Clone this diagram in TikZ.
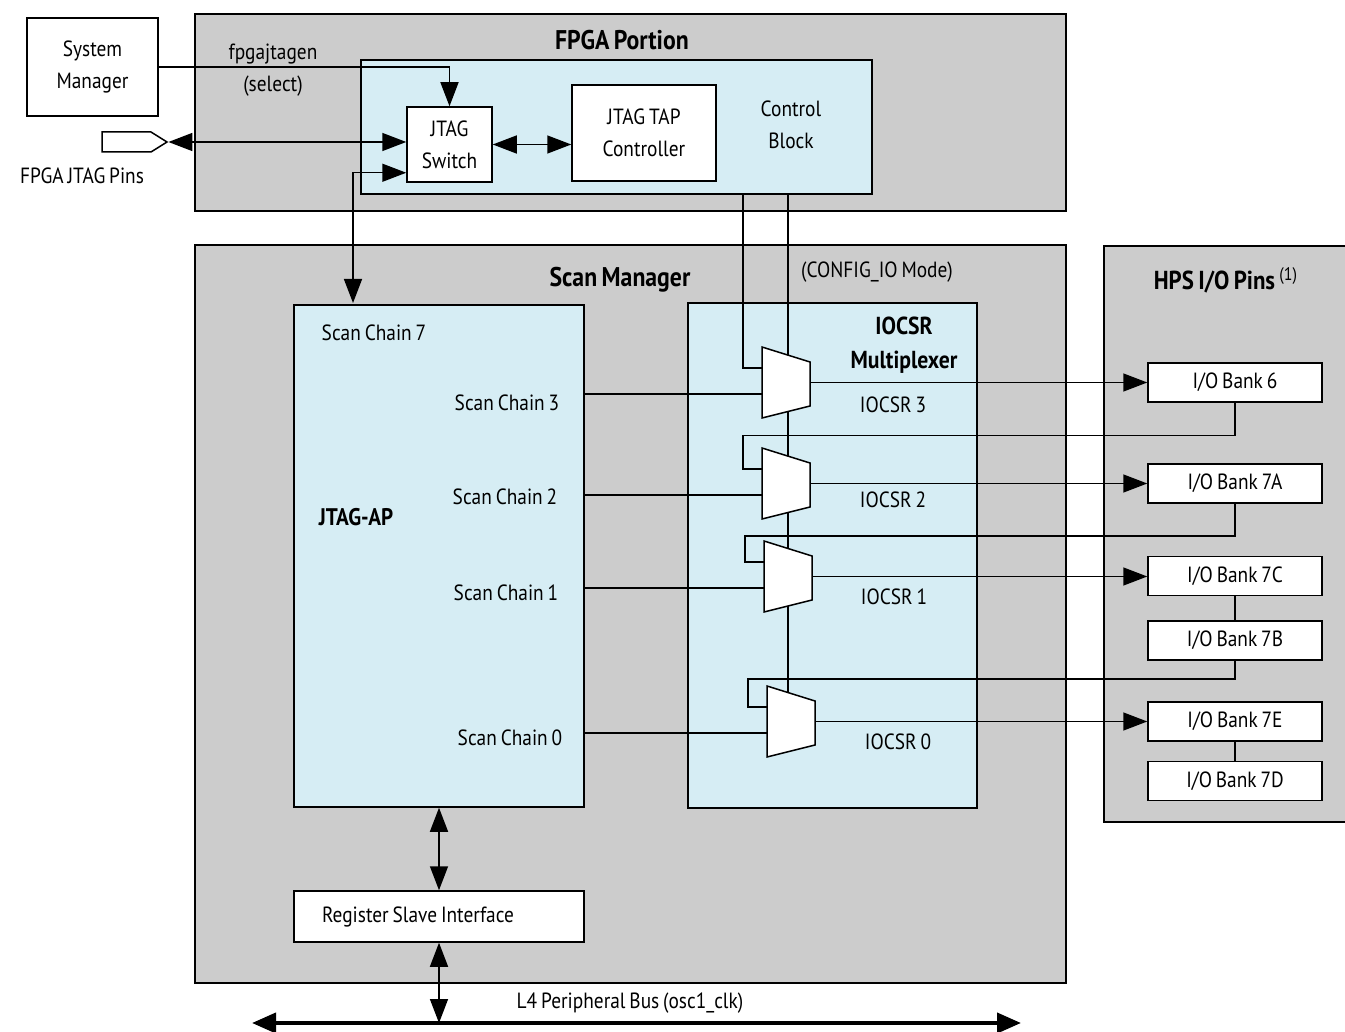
\documentclass[tikz,border=0pt]{standalone}
\usepackage{fontspec}
\setmainfont{PT Sans}[FakeStretch=0.88,WordSpace=0.75]
\usetikzlibrary{arrows.meta,shapes.symbols,calc,positioning}
\definecolor{areagray}{RGB}{204,204,204}
\definecolor{paleblue}{RGB}{214,237,244}

\begin{document}
\begin{tikzpicture}[x=0.5pt,y=-0.5pt,
    font=\fontsize{11}{16}\selectfont, line width=0.75pt,
    area/.style={draw,fill=areagray,inner sep=0pt},
    panel/.style={draw,fill=paleblue,inner sep=0pt},
    blk/.style={draw,fill=white,align=center,inner sep=0pt},
    bank/.style={blk,minimum width=87pt,minimum height=19.5pt},
    mux/.style={draw,fill=white},
    head/.style={font=\bfseries\fontsize{13.5}{15}\selectfont},
    tip/.style={-{Triangle[length=12pt,width=9pt]}},
    twotip/.style={{Triangle[length=12pt,width=9pt]}-{Triangle[length=12pt,width=9pt]}}]
  \useasboundingbox (0,0) rectangle (1345,1032);

  % regions
  \node[area,minimum width=435.5pt,minimum height=98.5pt] (fpga) at (630.5,112.5) {};
  \node[area,minimum width=435.5pt,minimum height=369pt] (scan) at (630.5,614) {};
  \node[area,minimum width=128pt,minimum height=288pt] (hps) at (1232,534) {};
  \node[panel,minimum width=255.5pt,minimum height=67pt] (ctrl) at (616.5,127) {};
  \node[panel,minimum width=145pt,minimum height=251pt] (ap) at (439,556) {};
  \node[panel,minimum width=144.5pt,minimum height=252.5pt] (iocsr) at (832.5,555.5) {};

  % blocks
  \node[blk,minimum width=65.5pt,minimum height=49pt] (sysmgr) at (92.5,67) {System\\Manager};
  \node[blk,minimum width=42.5pt,minimum height=37.5pt] (jsw) at (449.5,144.5) {JTAG\\Switch};
  \node[blk,minimum width=72pt,minimum height=48pt] (tap) at (644,133) {JTAG TAP\\Controller};
  \node[blk,minimum width=145pt,minimum height=25.5pt] (rsi) at (439,916.5) {Register Slave Interface\hspace*{21pt}};
  \node[signal,draw,fill=white,minimum width=32.5pt,minimum height=10pt,signal pointer angle=64,inner sep=0pt] (pin) at (126.5,142) {};

  \node[bank] (b6) at (1235,382.5) {I/O Bank 6};
  \node[bank] (b7a) at (1235,483.5) {I/O Bank 7A};
  \node[bank] (b7c) at (1235,576) {I/O Bank 7C};
  \node[bank,below=12pt of b7c] (b7b) {I/O Bank 7B};
  \node[bank] (b7e) at (1235,721.5) {I/O Bank 7E};
  \node[bank,below=9.5pt of b7e] (b7d) {I/O Bank 7D};

  % labels
  \node[head] (fpgat) at (622,40) {FPGA Portion};
  \node[head] (scant) at (620,280) {Scan Manager};
  \node[head,font=\bfseries\fontsize{13}{15}\selectfont] (hpst) at (1226,280) {HPS I/O Pins\,\textsuperscript{\mdseries(1)}};
  \node (cfgmode) at (877,272) {(CONFIG\_IO Mode)};
  \node[align=center] (sel) at (273,70) {fpgajtagen\\(select)};
  \node[align=center] (ctrlt) at (791,125) {Control\\Block};
  \node (pint) at (82,176) {FPGA JTAG Pins};
  \node (sc7) at (374,333) {Scan Chain 7};
  \node[font=\bfseries\fontsize{12}{16}\selectfont] (apt) at (356,517) {JTAG-AP};
  \node[align=center,font=\bfseries\fontsize{12.3}{17}\selectfont] (muxt) at (904,345) {IOCSR\\Multiplexer};
  \node (sc3) at (507,403) {Scan Chain 3};
  \node (sc2) at (505,497) {Scan Chain 2};
  \node (sc1) at (506,593) {Scan Chain 1};
  \node (sc0) at (510,738) {Scan Chain 0};
  \node (io3) at (893,405) {IOCSR 3};
  \node (io2) at (893,500) {IOCSR 2};
  \node (io1) at (894,597) {IOCSR 1};
  \node (io0) at (898,742) {IOCSR 0};
  \node (bust) at (630,1003) {L4 Peripheral Bus (osc1\_clk)};

  % JTAG side
  \draw[tip] (sysmgr.east) -| (jsw.north);
  \draw[twotip] (pin.east) -- (pin.east -| jsw.west);
  \draw[twotip] (jsw.east) -- (jsw.east -| tap.west);
  \coordinate (apin) at (353,303);
  \draw[twotip] (apin) |- ($(jsw.south west)+(0,-10)$);

  % multiplexers
  \coordinate (selbus) at (788,692);
  \draw (ctrl.south -| selbus) -- (selbus);
  \foreach \i/\l/\t in {3/762/347, 2/762/448, 1/764/541, 0/767/686} {
    \draw[mux] (\l,\t) -- ++(48,15) -- ++(0,44) -- ++(-48,12) -- cycle;
    \coordinate (m\i-a) at (\l,\t+21);
    \coordinate (m\i-b) at (\l,\t+47);
    \coordinate (m\i-o) at (\l+48,\t+35.5);
    \coordinate (m\i-s) at (\l-19,\t+21);
  }
  \draw (ctrl.south -| m3-s) |- (m3-a);
  \foreach \i in {0,...,3}
    \draw (m\i-b -| ap.east) -- (m\i-b);
  \foreach \i/\b in {3/b6,2/b7a,1/b7c,0/b7e}
    \draw[tip] (m\i-o) -- (m\i-o -| \b.west);

  % chained banks
  \draw (b6.south) -- ++(0,33) -| (m2-s) -- (m2-a);
  \draw (b7a.south) -- ++(0,32) -| (m1-s) -- (m1-a);
  \draw (b7b.south) -- ++(0,18) -| (m0-s) -- (m0-a);
  \draw (b7c.south) -- (b7b.north);
  \draw (b7e.south) -- (b7d.north);

  % bus
  \coordinate (busl) at (252,1023);
  \coordinate (busr) at (1021,1023);
  \draw[line width=2pt,{Triangle[length=12pt,width=10pt]}-{Triangle[length=12pt,width=10pt]}] (busl) -- (busr);
  \draw[twotip] (ap.south) -- (rsi.north);
  \draw[twotip] (rsi.south) -- (rsi.south |- busl);
\end{tikzpicture}
\end{document}
